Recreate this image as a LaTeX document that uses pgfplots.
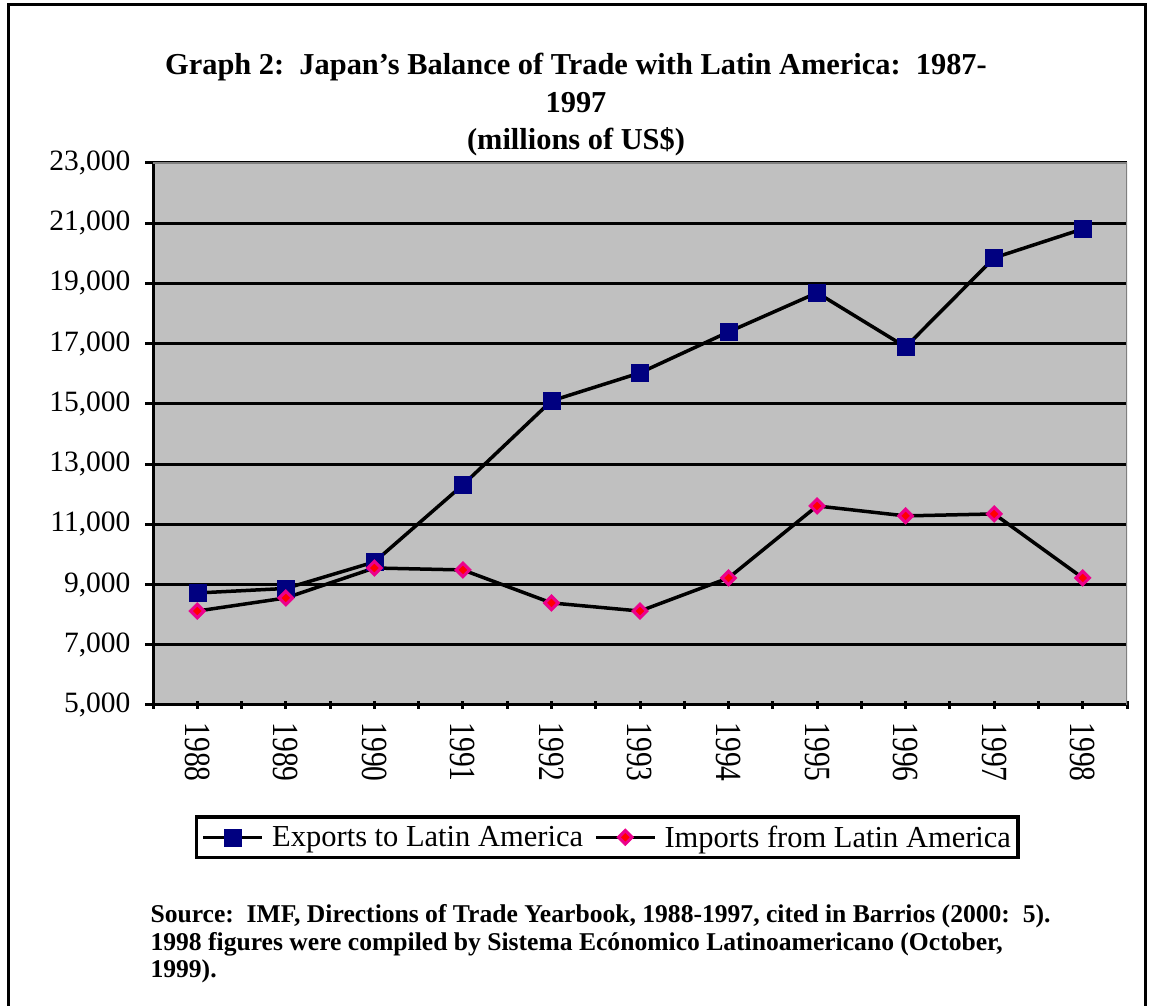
\documentclass[border=0pt]{standalone}
\usepackage{fontspec}
\setmainfont{Liberation Serif}
\usepackage{pgfplots}
\usepackage{pgfplotstable}
\pgfplotsset{compat=1.18}
\definecolor{plotgray}{HTML}{C0C0C0}
\definecolor{navyblue}{HTML}{000080}
\definecolor{bordergray}{HTML}{808080}
\frenchspacing
\pgfplotstableread{
x y
0 8720
1 8870
2 9750
3 12310
4 15100
5 16030
6 17390
7 18690
8 16890
9 19850
10 20810
}\exports
\pgfplotstableread{
x y
0 8120
1 8555
2 9550
3 9485
4 8390
5 8120
6 9220
7 11610
8 11280
9 11345
10 9220
}\imports
\begin{document}
\begin{tikzpicture}[x=1pt,y=1pt]
\useasboundingbox (0,0) rectangle (1149,1006);
\fill[white] (0,0) rectangle (1149,1006);
\draw[line width=3pt] (8.5,0) -- (8.5,1001) -- (1145,1001) -- (1145,0);
\node[font=\bfseries\fontsize{30.4}{36}\selectfont, anchor=base] at (576,931) {Graph 2:\ \ Japan's Balance of Trade with Latin America:\ \ 1987-};
\node[font=\bfseries\fontsize{30.4}{36}\selectfont, anchor=base] at (576,893) {1997};
\node[font=\bfseries\fontsize{30.4}{36}\selectfont, anchor=base] at (576,856) {(millions of US\$)};
\begin{axis}[
  at={(153pt,301pt)}, anchor=south west,
  scale only axis, width=974pt, height=542pt,
  xmin=-0.5, xmax=10.5, ymin=5000, ymax=23000,
  axis background/.style={fill=plotgray},
  axis x line*=bottom, axis y line*=left,
  every outer x axis line/.append style={line width=3pt, black},
  every outer y axis line/.append style={line width=3pt, black},
  axis line style={line width=3pt, black},
  ytick={5000,7000,...,23000},
  scaled y ticks=false,
  ymajorgrids, major grid style={line width=3pt, black},
  xtick={0,...,10},
  xticklabels={1988,1989,1990,1991,1992,1993,1994,1995,1996,1997,1998},
  minor xtick={-0.5,0.5,...,10.5},
  xtick align=center, ytick align=outside,
  major tick length=8pt, minor tick length=8pt,
  every tick/.style={line width=3pt, black},
  yticklabel style={font=\fontsize{29.5}{30}\selectfont, xshift=-11pt},
  xticklabel style={font=\fontsize{29.5}{30}\selectfont, rotate=-90, yscale=1.25, anchor=west, xshift=10pt},
  yticklabel={\pgfmathprintnumber[fixed, precision=0, 1000 sep={,}, assume math mode=true]{\tick}},
  legend image code/.code={\draw[mark repeat=2,mark phase=2,#1] plot coordinates {(0pt,0pt) (29.5pt,0pt) (59pt,0pt)};},
  legend columns=2,
  legend entries={Exports to Latin America, Imports from Latin America},
  legend style={at={(0.0431,-0.203)}, anchor=north west, draw=black, line width=3.5pt,
    font=\fontsize{30.5}{32}\selectfont, inner xsep=5pt, inner ysep=7pt,
    nodes={inner sep=2pt},
    /tikz/every odd column/.append style={column sep=6pt},
    /tikz/every even column/.append style={column sep=9pt}},
]
\addplot[line width=3.5pt, black, mark=square*, mark size=8.5pt,
  mark options={solid, fill=navyblue, draw=navyblue, line width=0.5pt}]
  table[x=x, y=y] {\exports};
\addplot[line width=3.5pt, black, mark=square*, mark size=6pt,
  mark options={solid, rotate=45, fill=magenta, draw=magenta, line width=0.5pt},
  legend image code/.code={
    \draw[line width=3.5pt, black] (0pt,0pt) -- (59pt,0pt);
    \draw plot[only marks, mark=square*, mark size=6pt, mark options={rotate=45, fill=magenta, draw=magenta, line width=0.5pt}] coordinates {(29.5pt,0pt)};
    \draw plot[only marks, mark=square*, mark size=2.8pt, mark options={rotate=45, fill=red, draw=red, line width=0.3pt}] coordinates {(29.5pt,0pt)};
  }]
  table[x=x, y=y] {\imports};
\addplot[only marks, forget plot, mark=square*, mark size=2.8pt,
  mark options={solid, rotate=45, fill=red, draw=red, line width=0.3pt}]
  table[x=x, y=y] {\imports};
\draw[bordergray, line width=3pt] (rel axis cs:0,1) -- (rel axis cs:1,1) -- (rel axis cs:1,0);
\end{axis}
\node[font=\bfseries\fontsize{25.6}{27.5}\selectfont, anchor=base west] at (147,83) {Source:\ \ IMF, Directions of Trade Yearbook, 1988-1997, cited in Barrios (2000:\ \ 5).};
\node[font=\bfseries\fontsize{25.6}{27.5}\selectfont, anchor=base west] at (147,55.5) {1998 figures were compiled by Sistema Ecónomico Latinoamericano (October,};
\node[font=\bfseries\fontsize{25.6}{27.5}\selectfont, anchor=base west] at (147,28) {1999).};
\end{tikzpicture}
\end{document}
